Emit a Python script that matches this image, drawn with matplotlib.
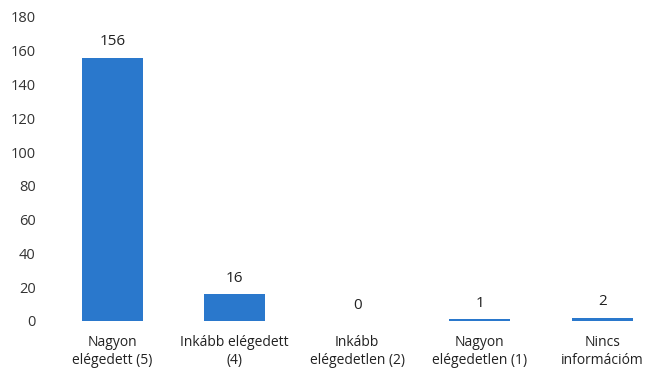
import matplotlib.pyplot as plt

# 满意度调查结果
categories = ['Nagyon\nelégedett (5)', 'Inkább elégedett\n(4)', 'Inkább\nelégedetlen (2)',
              'Nagyon\nelégedetlen (1)', 'Nincs\ninformációm']
counts = [156, 16, 0, 1, 2]
yticks = [0, 20, 40, 60, 80, 100, 120, 140, 160, 180]

plt.rcParams['font.family'] = ['Open Sans', 'DejaVu Sans']

fig = plt.figure(figsize=(6.5, 3.73), dpi=100)
ax = fig.add_axes([51 / 650, 52 / 373, 612.5 / 650, 304 / 373])

x = range(len(categories))
ax.bar(x, counts, width=0.5, color='#2a78cc')

# 数值标签
for i, v in zip(x, counts):
    ax.annotate(str(v), (i, v), xytext=(0, 6), textcoords='offset points',
                ha='center', va='bottom', fontsize=11, color='#222222')

ax.set_ylim(0, 180)
ax.set_xlim(-0.5, 4.5)
ax.set_yticks(yticks)
ax.set_xticks(list(x))
ax.set_xticklabels(categories, fontsize=10, color='#222222', linespacing=1.25)
ax.tick_params(axis='y', labelsize=10.5, labelcolor='#333333', length=0, pad=11)
ax.tick_params(axis='x', length=0, pad=10)
for s in ax.spines.values():
    s.set_visible(False)

fig.savefig('out.png', dpi=100)
